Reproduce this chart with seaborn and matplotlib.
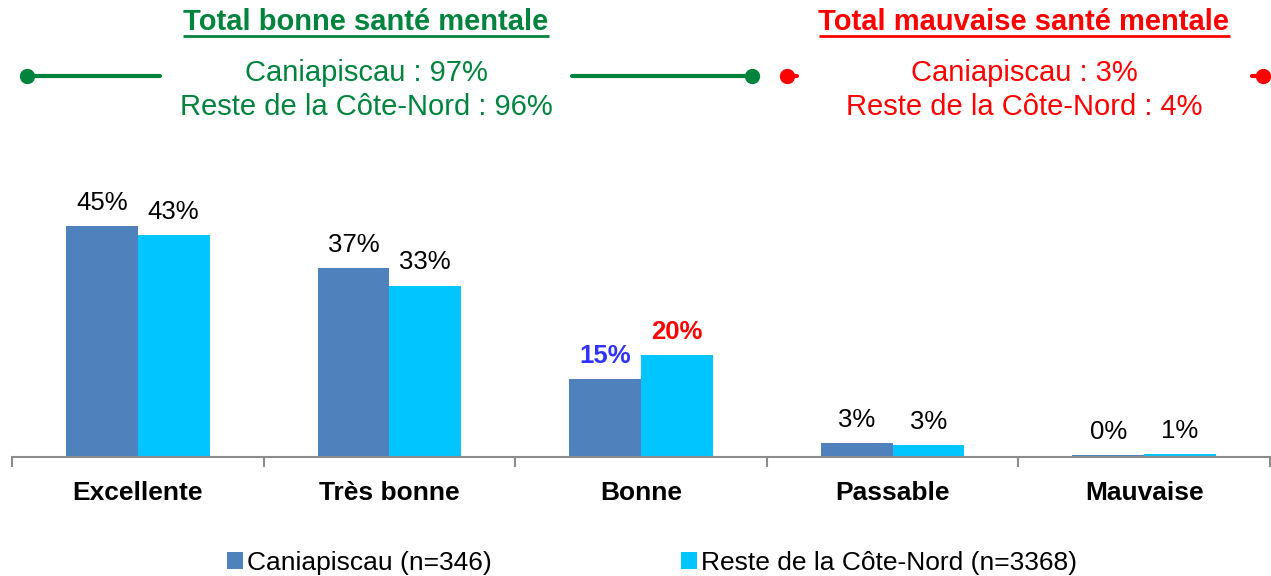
import pandas as pd
import matplotlib.pyplot as plt
from matplotlib.patches import Patch
import seaborn as sns

sns.set_theme(style='white')
plt.rcParams['font.family'] = ['Liberation Sans', 'DejaVu Sans']

categories = ['Excellente', 'Très bonne', 'Bonne', 'Passable', 'Mauvaise']
groups = ['Caniapiscau (n=346)', 'Reste de la Côte-Nord (n=3368)']
caniapiscau = [45.0, 36.8, 15.2, 2.8, 0.3]
reste = [43.3, 33.4, 19.9, 2.4, 0.6]
labels_cani = ['45%', '37%', '15%', '3%', '0%']
labels_reste = ['43%', '33%', '20%', '3%', '1%']

colors = ['#4F81BD', '#00C5FF']
green = '#00843D'
red = '#FF0000'

df = pd.DataFrame({
    'cat': categories * 2,
    'grp': [groups[0]] * 5 + [groups[1]] * 5,
    'val': caniapiscau + reste,
})

fig = plt.figure(figsize=(12.71, 5.76), dpi=100)
ax = fig.add_axes([12 / 1271, 119 / 576, 1258 / 1271, 307 / 576])

sns.barplot(data=df, x='cat', y='val', hue='grp', order=categories,
            hue_order=groups, palette=colors, width=0.57, saturation=1,
            linewidth=0, legend=False, ax=ax)

ax.set_xlim(-0.5, 4.5)
ax.set_ylim(0, 59.8)
ax.set_xlabel('')
ax.set_ylabel('')
ax.set_yticks([])
for s in ['left', 'right', 'top']:
    ax.spines[s].set_visible(False)
ax.spines['bottom'].set_color('#8c8c8c')
ax.spines['bottom'].set_linewidth(1.5)

# ticks at category boundaries, labels centered
ax.set_xticks([i - 0.5 for i in range(6)])
ax.set_xticklabels([])
ax.tick_params(axis='x', which='major', direction='out', length=7,
               width=1.5, color='#8c8c8c', bottom=True)
ax.set_xticks(range(5), minor=True)
ax.set_xticklabels(categories, minor=True, fontsize=19, fontweight='bold',
                   color='black')
ax.tick_params(axis='x', which='minor', length=0, pad=17)

# value labels
for cont, labs in zip(ax.containers, [labels_cani, labels_reste]):
    txts = ax.bar_label(cont, labels=labs, padding=8, fontsize=18.5,
                        color='black')
    if labs is labels_cani:
        txts[2].set_color('#3333FF')
    else:
        txts[2].set_color(red)
    txts[2].set_fontweight('bold')

# legend
handles = [Patch(facecolor=c, edgecolor='none') for c in colors]
fig.legend(handles, groups, loc='center', bbox_to_anchor=(652 / 1271, 1 - 563 / 576),
           ncol=2, frameon=False, fontsize=19, labelcolor='black',
           handlelength=0.6, handleheight=0.6, handletextpad=0.15,
           columnspacing=7.2)

# header overlay in pixel coordinates
ov = fig.add_axes([0, 0, 1, 1], zorder=5)
ov.set_xlim(0, 1271)
ov.set_ylim(576, 0)
ov.axis('off')
ov.patch.set_alpha(0)

fs = 21
t1 = ov.text(366, 22, 'Total bonne santé mentale', ha='center', va='center',
             fontsize=fs, fontweight='bold', color=green)
t2 = ov.text(1024, 22, 'Total mauvaise santé mentale', ha='center', va='center',
             fontsize=fs, fontweight='bold', color=red)
ov.text(366, 73, 'Caniapiscau : 97%', ha='center', va='center', fontsize=fs, color=green)
ov.text(366, 107, 'Reste de la Côte-Nord : 96%', ha='center', va='center', fontsize=fs, color=green)
ov.text(1024, 73, 'Caniapiscau : 3%', ha='center', va='center', fontsize=fs, color=red)
ov.text(1024, 107, 'Reste de la Côte-Nord : 4%', ha='center', va='center', fontsize=fs, color=red)

# underline titles
fig.canvas.draw()
inv = ov.transData.inverted()
for t, c in [(t1, green), (t2, red)]:
    bb = t.get_window_extent()
    (x0, _), (x1, _) = inv.transform([(bb.x0, bb.y0), (bb.x1, bb.y0)])
    ov.plot([x0, x1], [36, 36], color=c, lw=2, solid_capstyle='butt')

ov.plot([27, 160], [76, 76], color=green, lw=3)
ov.plot([27], [76], 'o', color=green, ms=10)
ov.plot([572, 752], [76, 76], color=green, lw=3)
ov.plot([752], [76], 'o', color=green, ms=10)
ov.plot([787, 797], [76, 76], color=red, lw=3)
ov.plot([787], [76], 'o', color=red, ms=10)
ov.plot([1252, 1263], [76, 76], color=red, lw=3)
ov.plot([1263], [76], 'o', color=red, ms=10, clip_on=False)

fig.savefig('out.png', dpi=100)
